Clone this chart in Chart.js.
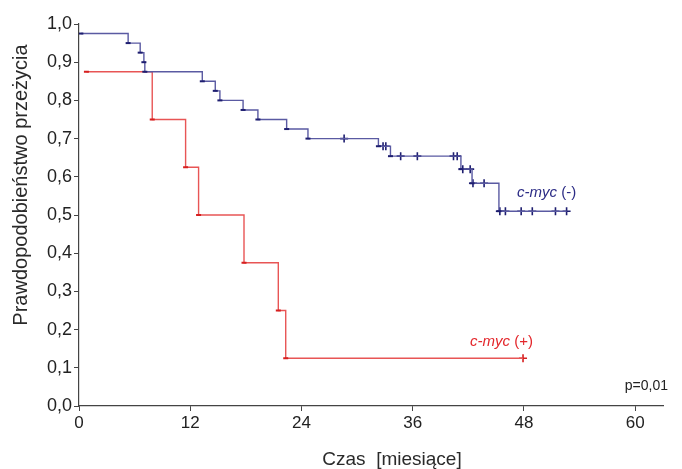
<!DOCTYPE html>
<html>
<head>
<meta charset="utf-8">
<script src="https://cdn.jsdelivr.net/npm/chart.js@4.4.0/dist/chart.umd.min.js"></script>
<style>
html,body{margin:0;padding:0;background:#fff;}
#wrap{width:682px;height:469px;position:relative;}
</style>
</head>
<body>
<div id="wrap"><canvas id="km"></canvas></div>
<script>
// Kaplan-Meier: c-myc (-) group
const negTimes=[0.2,5.3,6.6,7.0,7.1,13.3,14.7,15.2,17.7,19.3,22.4,24.7,32.3,33.6,41.2,42.4,45.3,52.6];
const negSurv=[0.975,0.95,0.925,0.9,0.875,0.85,0.825,0.8,0.775,0.75,0.725,0.7,0.68,0.654,0.62,0.583,0.51,0.51];
const negCensT=[28.6,32.8,33.1,34.7,36.5,40.4,40.8,41.4,42.2,42.5,43.7,45.4,46.0,47.7,48.9,51.4,52.6];
const negCensS=[0.7,0.68,0.68,0.654,0.654,0.654,0.654,0.62,0.62,0.583,0.583,0.51,0.51,0.51,0.51,0.51,0.51];

// c-myc (+) group
const posTimes=[0.8,7.9,11.5,12.9,17.8,21.5,22.3,47.9];
const posSurv=[0.875,0.75,0.625,0.5,0.375,0.25,0.125,0.125];
const posCensT=[47.9];
const posCensS=[0.125];

const xTicks=[0,12,24,36,48,60];
const yTicks=[0,0.1,0.2,0.3,0.4,0.5,0.6,0.7,0.8,0.9,1];

const FONT="'Liberation Sans', Arial, sans-serif";
const pts=(t,s)=>t.map((v,i)=>({x:v,y:s[i]}));
const lastOff=n=>c=>c.dataIndex===n-1?0:2.5;

// group labels, p value and axis titles
const notes={id:"notes",afterDraw(chart){
  const ctx=chart.ctx;
  ctx.save();
  ctx.textBaseline="middle";
  function label(x,y,col,rest){
    ctx.fillStyle=col;
    ctx.font="italic 15px "+FONT;
    ctx.textAlign="left";
    ctx.fillText("c-myc",x,y);
    const w=ctx.measureText("c-myc ").width;
    ctx.font="15px "+FONT;
    ctx.fillText(rest,x+w,y);
  }
  label(517,193,"#2b2b85","(-)");
  label(470,342,"#e3262b","(+)");
  ctx.fillStyle="#222";
  ctx.font="14px "+FONT;
  ctx.textAlign="right";
  ctx.fillText("p=0,01",668,386);

  ctx.fillStyle="#2a2a2a";
  ctx.textAlign="center";
  ctx.font="19px "+FONT;
  ctx.fillText("Czas  [miesiące]",392,460);
  ctx.translate(21,185);
  ctx.rotate(-Math.PI/2);
  ctx.font="20px "+FONT;
  ctx.fillText("Prawdopodobieństwo przeżycia",0,0);
  ctx.restore();
}};

new Chart(document.getElementById("km"),{
  type:"line",
  data:{datasets:[
    {data:pts(negTimes,negSurv),stepped:true,borderColor:"#5a5aa2",borderWidth:1.4,fill:false,
     pointStyle:"line",pointRadius:lastOff(negTimes.length),pointBorderColor:"#1e1e70",pointBorderWidth:2},
    {data:pts(posTimes,posSurv),stepped:true,borderColor:"#e85555",borderWidth:1.4,fill:false,
     pointStyle:"line",pointRadius:lastOff(posTimes.length),pointBorderColor:"#d61f1f",pointBorderWidth:2},
    {data:pts(negCensT,negCensS),showLine:false,pointStyle:"cross",pointRadius:4,pointBorderColor:"#1e1e70",pointBorderWidth:1.6},
    {data:pts(posCensT,posCensS),showLine:false,pointStyle:"cross",pointRadius:4,pointBorderColor:"#d61f1f",pointBorderWidth:1.6}
  ]},
  options:{
    responsive:true,maintainAspectRatio:false,animation:false,
    layout:{padding:{left:6,right:19,top:24,bottom:0}},
    plugins:{legend:{display:false},tooltip:{enabled:false}},
    scales:{
      x:{type:"linear",min:0,max:63,
        afterBuildTicks:s=>{s.ticks=xTicks.map(v=>({value:v}));},
        afterFit:s=>{s.height=63;},
        grid:{drawOnChartArea:false,drawTicks:true,tickLength:5,color:"#444"},
        border:{color:"#444",width:1.2},
        ticks:{color:"#222",font:{size:17,family:FONT},padding:2,maxRotation:0}
      },
      y:{min:0,max:1,
        afterBuildTicks:s=>{s.ticks=yTicks.map(v=>({value:v}));},
        afterFit:s=>{s.width=73;},
        grid:{drawOnChartArea:false,drawTicks:true,tickLength:5,color:"#444"},
        border:{color:"#444",width:1.2},
        ticks:{color:"#222",font:{size:18,family:FONT},padding:2,
          callback:v=>v.toFixed(1).replace(".",",")}
      }
    }
  },
  plugins:[notes]
});
</script>
</body>
</html>
